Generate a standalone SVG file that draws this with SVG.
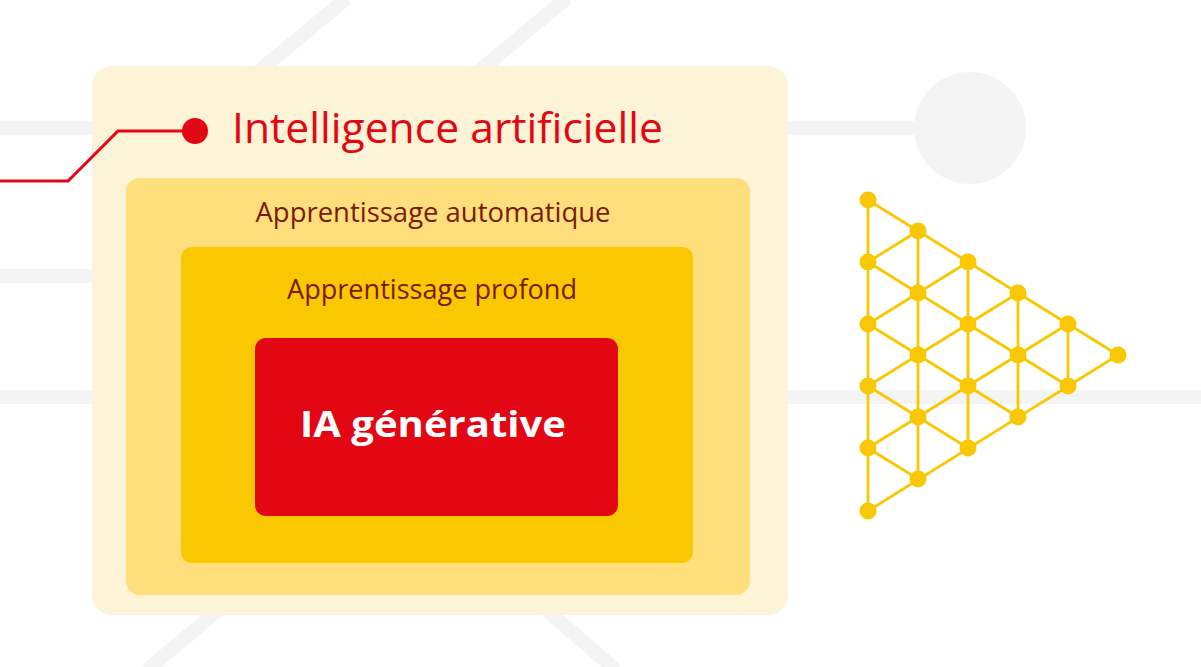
<svg xmlns="http://www.w3.org/2000/svg" width="1201" height="667" viewBox="0 0 1201 667">
<style>
.bg{stroke:#f4f4f4;stroke-width:14;fill:none}
.net{stroke:#f9c800;stroke-width:2.8;fill:none}
.nd{fill:#f9c800}
.lbl{font-family:"Open Sans","Noto Sans",sans-serif;fill:#7a1a0c;font-size:27px;text-anchor:middle}
</style>
<rect width="1201" height="667" fill="#ffffff"/>
<g id="background">
<line class="bg" x1="0" y1="128" x2="960" y2="128"/>
<circle cx="970" cy="128" r="56" fill="#f4f4f4"/>
<line class="bg" x1="0" y1="276" x2="120" y2="276"/>
<line class="bg" x1="0" y1="397" x2="1201" y2="397"/>
<line class="bg" x1="347" y1="-2" x2="200" y2="120"/>
<line class="bg" x1="567" y1="-2" x2="420" y2="120"/>
<line class="bg" x1="230" y1="600" x2="147" y2="670"/>
<line class="bg" x1="535" y1="600" x2="616" y2="670"/>
</g>
<g id="node-ia">
<rect x="92" y="66" width="696" height="549" rx="20" fill="#fdf3d6"/>
<text x="232" y="143" font-family="'Open Sans','Noto Sans',sans-serif" font-size="42" fill="#e30613" textLength="431" lengthAdjust="spacingAndGlyphs">Intelligence artificielle</text>
</g>
<g id="node-ml">
<rect x="126" y="178" width="624" height="417" rx="14" fill="#ffdf7b"/>
<text class="lbl" x="433" y="222" textLength="355" lengthAdjust="spacingAndGlyphs">Apprentissage automatique</text>
</g>
<g id="node-dl">
<rect x="181" y="247" width="512" height="316" rx="11" fill="#f9c800"/>
<text class="lbl" x="432" y="299" textLength="290" lengthAdjust="spacingAndGlyphs">Apprentissage profond</text>
</g>
<g id="node-gen">
<rect x="255" y="338" width="363" height="178" rx="11" fill="#e30613"/>
<text x="433" y="437" font-family="'Open Sans','Noto Sans',sans-serif" font-weight="bold" font-size="35" fill="#ffffff" text-anchor="middle" textLength="266" lengthAdjust="spacingAndGlyphs">IA générative</text>
</g>
<g id="connectors">
<polyline points="0,181 68,181 118,131 195,131" fill="none" stroke="#e30613" stroke-width="3"/>
<circle cx="195" cy="131" r="13" fill="#e30613"/>
</g>
<g id="network">
<g class="net">
<line x1="868" y1="200" x2="868" y2="511"/>
<line x1="918" y1="231" x2="918" y2="479"/>
<line x1="968" y1="262" x2="968" y2="448"/>
<line x1="1018" y1="293" x2="1018" y2="417"/>
<line x1="1068" y1="324" x2="1068" y2="386"/>
<line x1="868" y1="200" x2="1118" y2="355"/>
<line x1="868" y1="262" x2="1068" y2="386"/>
<line x1="868" y1="324" x2="1018" y2="417"/>
<line x1="868" y1="386" x2="968" y2="448"/>
<line x1="868" y1="448" x2="918" y2="479"/>
<line x1="868" y1="511" x2="1118" y2="355"/>
<line x1="868" y1="448" x2="1068" y2="324"/>
<line x1="868" y1="386" x2="1018" y2="293"/>
<line x1="868" y1="324" x2="968" y2="262"/>
<line x1="868" y1="262" x2="918" y2="231"/>
</g>
<g class="nd">
<circle cx="868" cy="200" r="8.5"/><circle cx="868" cy="262" r="8.5"/><circle cx="868" cy="324" r="8.5"/><circle cx="868" cy="386" r="8.5"/><circle cx="868" cy="448" r="8.5"/><circle cx="868" cy="511" r="8.5"/>
<circle cx="918" cy="231" r="8.5"/><circle cx="918" cy="293" r="8.5"/><circle cx="918" cy="355" r="8.5"/><circle cx="918" cy="417" r="8.5"/><circle cx="918" cy="479" r="8.5"/>
<circle cx="968" cy="262" r="8.5"/><circle cx="968" cy="324" r="8.5"/><circle cx="968" cy="386" r="8.5"/><circle cx="968" cy="448" r="8.5"/>
<circle cx="1018" cy="293" r="8.5"/><circle cx="1018" cy="355" r="8.5"/><circle cx="1018" cy="417" r="8.5"/>
<circle cx="1068" cy="324" r="8.5"/><circle cx="1068" cy="386" r="8.5"/>
<circle cx="1118" cy="355" r="8.5"/>
</g>
</g>
</svg>
